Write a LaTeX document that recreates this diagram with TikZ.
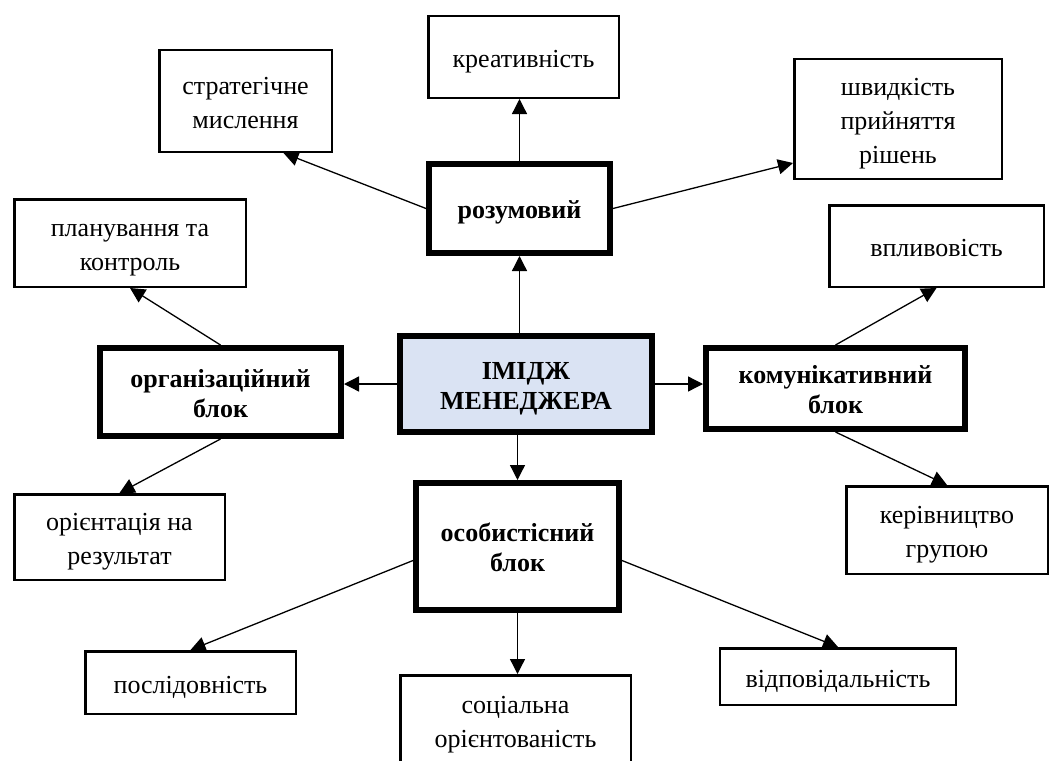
\documentclass[tikz,border=0pt]{standalone}
\usepackage{fontspec}
\setmainfont{Liberation Serif}
\usetikzlibrary{arrows.meta}
\definecolor{imgblue}{HTML}{DAE3F3}
\newcommand{\boxtext}[1]{\raisebox{-4pt}[\height][\depth]{\begin{tabular}{@{}c@{}}#1\end{tabular}}}
\begin{document}
\begin{tikzpicture}[x=1pt,y=-1pt,
    box/.style={draw,line width=2.5pt,inner sep=0pt,font=\fontsize{26}{34}\selectfont},
    blockbox/.style={box,line width=6pt,font=\fontsize{26}{30}\selectfont\bfseries},
    arr/.style={line width=1.3pt,-{Triangle[length=15pt,width=15pt]}}]
  \clip (0,0) rectangle (1051,760);
  \node[box,minimum width=190.5pt,minimum height=81.5pt] (kreat) at (523.5,57) {\boxtext{креативність}};
  \node[box,minimum width=172.5pt,minimum height=101.5pt] (strat) at (245.5,101) {\boxtext{стратегічне\\мислення}};
  \node[box,minimum width=207.5pt,minimum height=119.5pt] (shvyd) at (898,119) {\boxtext{швидкість\\прийняття\\рішень}};
  \node[blockbox,minimum width=181pt,minimum height=89pt] (raz) at (519.5,208.5) {\boxtext{розумовий}};
  \node[box,minimum width=231.5pt,minimum height=87.5pt] (plan) at (130,243) {\boxtext{планування та\\контроль}};
  \node[box,minimum width=214.5pt,minimum height=81.5pt] (vplyv) at (936.5,246) {\boxtext{впливовість}};
  \node[blockbox,minimum width=241pt,minimum height=88pt] (org) at (220.5,392) {\boxtext{організаційний\\блок}};
  \node[blockbox,fill=imgblue,minimum width=252pt,minimum height=96pt] (imidzh) at (526,384) {\boxtext{ІМІДЖ\\МЕНЕДЖЕРА}};
  \node[blockbox,minimum width=259pt,minimum height=81pt] (komm) at (835.5,388.5) {\boxtext{комунікативний\\блок}};
  \node[box,minimum width=210.5pt,minimum height=85.5pt] (orient) at (119.5,537) {\boxtext{орієнтація на\\результат}};
  \node[box,minimum width=201.5pt,minimum height=87.5pt] (kerivn) at (947,530) {\boxtext{керівництво\\групою}};
  \node[blockbox,minimum width=203pt,minimum height=127pt] (osob) at (517.5,546.5) {\boxtext{особистісний\\блок}};
  \node[box,minimum width=230.5pt,minimum height=89.5pt] (social) at (515.5,720) {\boxtext{соціальна\\орієнтованість}};
  \node[box,minimum width=236pt,minimum height=56.5pt] (vidp) at (838,676.5) {\boxtext{відповідальність}};
  \node[box,minimum width=210.5pt,minimum height=62.5pt] (posl) at (190.5,682.5) {\boxtext{послідовність}};

  \draw[arr] (raz.north) -- (raz.north |- kreat.south);
  \draw[arr] (raz.west) -- ([xshift=38pt]strat.south);
  \draw[arr] (raz.east) -- ([yshift=-44pt]shvyd.west);
  \draw[arr] (raz.south |- imidzh.north) -- (raz.south);
  \draw[arr] (imidzh.west) -- (imidzh.west -| org.east);
  \draw[arr] (imidzh.east) -- (imidzh.east -| komm.west);
  \draw[arr] (osob.north |- imidzh.south) -- (osob.north);
  \draw[arr] (org.north) -- (plan.south);
  \draw[arr] (org.south) -- (orient.north);
  \draw[arr] (komm.north) -- (vplyv.south);
  \draw[arr] (komm.south) -- (kerivn.north);
  \draw[arr] ([yshift=-14pt]osob.west) -- (posl.north);
  \draw[arr] (osob.south) -- (osob.south |- social.north);
  \draw[arr] ([yshift=-14pt]osob.east) -- (vidp.north);
\end{tikzpicture}
\end{document}
